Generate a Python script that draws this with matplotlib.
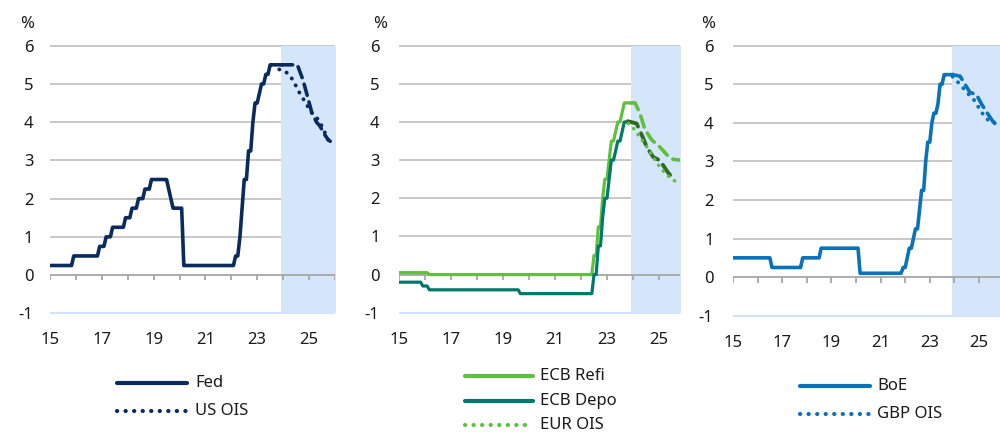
import numpy as np
import matplotlib
matplotlib.use("Agg")
import matplotlib.pyplot as plt
from matplotlib.lines import Line2D

plt.rcParams['font.family'] = ['Noto Sans', 'DejaVu Sans']

# ---------------- data ----------------
# Policy rate decisions: (effective month, new rate in %)
fed_dates = ["2015-01", "2015-12", "2016-12", "2017-03", "2017-06", "2017-12",
             "2018-03", "2018-06", "2018-09", "2018-12", "2019-08", "2019-09",
             "2019-10", "2020-03", "2022-03", "2022-05", "2022-06", "2022-07",
             "2022-09", "2022-11", "2022-12", "2023-02", "2023-03", "2023-05",
             "2023-07"]
fed_rates = [0.25, 0.50, 0.75, 1.00, 1.25, 1.50, 1.75, 2.00, 2.25, 2.50, 2.25,
             2.00, 1.75, 0.25, 0.50, 1.00, 1.75, 2.50, 3.25, 4.00, 4.50, 4.75,
             5.00, 5.25, 5.50]

refi_dates = ["2015-01", "2016-03", "2022-07", "2022-09", "2022-11", "2022-12",
              "2023-02", "2023-03", "2023-05", "2023-06", "2023-08", "2023-09"]
refi_rates = [0.05, 0.00, 0.50, 1.25, 2.00, 2.50, 3.00, 3.50, 3.75, 4.00, 4.25, 4.50]

depo_dates = ["2015-01", "2015-12", "2016-03", "2019-09", "2022-07", "2022-09",
              "2022-11", "2022-12", "2023-02", "2023-03", "2023-05", "2023-06",
              "2023-08", "2023-09"]
depo_rates = [-0.20, -0.30, -0.40, -0.50, 0.00, 0.75, 1.50, 2.00, 2.50, 3.00,
              3.25, 3.50, 3.75, 4.00]

boe_dates = ["2015-01", "2016-08", "2017-11", "2018-08", "2020-03", "2021-12",
             "2022-02", "2022-03", "2022-05", "2022-06", "2022-08", "2022-09",
             "2022-11", "2022-12", "2023-02", "2023-03", "2023-05", "2023-06",
             "2023-08"]
boe_rates = [0.50, 0.25, 0.50, 0.75, 0.10, 0.25, 0.50, 0.75, 1.00, 1.25, 1.75,
             2.25, 3.00, 3.50, 4.00, 4.25, 4.50, 5.00, 5.25]

# Forecast paths (time in years, rate in %)
fed_fc_t = [2023.92, 2024.0, 2024.25, 2024.55, 2024.77, 2024.97, 2025.1, 2025.29,
            2025.42, 2025.61, 2025.74, 2025.82]
fed_fc_v = [5.50, 5.50, 5.50, 5.50, 5.10, 4.60, 4.27, 4.00, 3.90, 3.67, 3.54, 3.50]
usois_t = [2023.85, 2024.19, 2024.38, 2024.64, 2024.84, 2025.03, 2025.16, 2025.38,
           2025.61, 2025.74, 2025.82]
usois_v = [5.38, 5.28, 5.10, 4.76, 4.54, 4.32, 4.19, 4.06, 3.73, 3.54, 3.50]

refi_fc_t = [2023.92, 2024.08, 2024.27, 2024.46, 2024.72, 2025.04, 2025.30, 2025.55, 2025.80]
refi_fc_v = [4.50, 4.50, 4.22, 3.80, 3.53, 3.34, 3.14, 3.02, 3.00]
depo_fc_t = [2023.80, 2024.14, 2024.40, 2024.53, 2024.78, 2025.04, 2025.30, 2025.55]
depo_fc_v = [4.02, 3.96, 3.56, 3.34, 3.08, 2.99, 2.72, 2.50]
eurois_t = [2023.82, 2024.0, 2024.27, 2024.59, 2024.85, 2025.10, 2025.42, 2025.62]
eurois_v = [3.96, 3.85, 3.60, 3.29, 3.00, 2.76, 2.54, 2.45]

boe_fc_t = [2023.92, 2024.23, 2024.43, 2024.63, 2024.90, 2025.10, 2025.31, 2025.58, 2025.85]
boe_fc_v = [5.25, 5.21, 5.00, 4.79, 4.73, 4.49, 4.28, 4.02, 4.00]
gbpois_t = [2023.92, 2024.02, 2024.23, 2024.50, 2024.77, 2025.10, 2025.31, 2025.58, 2025.85]
gbpois_v = [5.20, 5.13, 5.00, 4.79, 4.62, 4.28, 4.10, 4.00, 3.95]

tick_years = [2015, 2017, 2019, 2021, 2023, 2025]
tick_labels = ["15", "17", "19", "21", "23", "25"]
y_ticks = [-1, 0, 1, 2, 3, 4, 5, 6]
forecast_start = 2023.92

# ---------------- colours ----------------
NAVY = "#0b2b5e"
LGREEN = "#5ec03c"
TEAL = "#00786a"
DGREEN = "#2f6b1f"
BLUE = "#0a72b9"
SHADE = "#d6e6fa"
GRID = "#bfbfbf"
AXIS = "#a6a6a6"
TXT = "#1a1a1a"

W, H = 1000, 432
fig = plt.figure(figsize=(W / 100, H / 100), dpi=100)

dotted = (0, (0.05, 2.0))
dashed = (0, (3.2, 1.9))


def monthly(dates, rates, end="2023-12"):
    """Month-by-month rate path from a list of decision months."""
    ey, em = map(int, end.split("-"))
    t, v = [], []
    d_t = [int(d[:4]) + (int(d[5:]) - 1) / 12 for d in dates]
    y, m = 2015, 1
    while (y, m) <= (ey, em):
        tt = y + (m - 1) / 12
        idx = np.searchsorted(d_t, tt + 1e-9, side="right") - 1
        t.append(tt)
        v.append(rates[idx])
        m += 1
        if m > 12:
            m, y = 1, y + 1
    return np.array(t), np.array(v)


def make_axes(left_px, px_per_year, xmax, top6_px, bot1_px, pad_y, pct_x):
    upu = (bot1_px - top6_px) / 7.0
    ext = 0.1
    top = top6_px - ext * upu
    bot = bot1_px + ext * upu
    width = (xmax - 2015) * px_per_year
    ax = fig.add_axes([left_px / W, 1 - bot / H, width / W, (bot - top) / H])
    ax.set_xlim(2015, xmax)
    ax.set_ylim(-1 - ext, 6 + ext)
    for s in ax.spines.values():
        s.set_visible(False)
    ax.set_xticks(tick_years)
    ax.set_xticklabels(tick_labels)
    ax.set_yticks(y_ticks)
    ax.set_yticklabels([str(v) for v in y_ticks])
    ax.tick_params(axis="x", length=0, pad=11, labelsize=12, colors=TXT)
    ax.tick_params(axis="y", length=0, pad=pad_y, labelsize=12, colors=TXT)
    for lv in [1, 2, 3, 4, 5, 6]:
        ax.axhline(lv, color=GRID, lw=1.2, zorder=0.5)
    ax.axhline(-1, color="#d3e3f8", lw=1.5, zorder=0.5)
    ax.fill_between([forecast_start, xmax + 1], -1, 6, color=SHADE, lw=0, zorder=1)
    ax.axhline(0, color=AXIS, lw=1.3, zorder=2)
    ax.vlines(np.arange(2015, 2027), -0.14, 0, color=AXIS, lw=1.3, zorder=2)
    fig.text(pct_x / W, 1 - 24 / H, "%", fontsize=12,
             color=TXT, ha="center", va="center")
    return ax


def legend(x0, x1, xt, rows, lw=3.0):
    for y, color, style, label in rows:
        ls = "-" if style == "solid" else dotted
        ln = Line2D([x0 / W, x1 / W], [1 - y / H, 1 - y / H], transform=fig.transFigure,
                    color=color, lw=lw, linestyle=ls,
                    solid_capstyle="round", dash_capstyle="round")
        fig.add_artist(ln)
        fig.text(xt / W, 1 - y / H, label, fontsize=12, color=TXT, va="center", ha="left")


# ---------------- Fed ----------------
ax1 = make_axes(50, 25.9, 2026.0, 45.7, 313.3, 12, 27)
t, v = monthly(fed_dates, fed_rates)
ax1.plot(t, v, color=NAVY, lw=2.6, zorder=4, solid_joinstyle="round")
ax1.plot(fed_fc_t, fed_fc_v, color=NAVY, lw=2.6, ls=dashed, zorder=4, dash_capstyle="round")
ax1.plot(usois_t, usois_v, color=NAVY, lw=2.8, ls=dotted, zorder=4, dash_capstyle="round")
legend(117, 187, 195, [(383, NAVY, "solid", "Fed"), (411, NAVY, "dot", "US OIS")])

# ---------------- ECB ----------------
ax2 = make_axes(399, 26.0, 2025.8, 45.7, 312.7, 14, 380)
t, v = monthly(refi_dates, refi_rates)
ax2.plot(t, v, color=LGREEN, lw=2.3, zorder=4)
t, v = monthly(depo_dates, depo_rates)
ax2.plot(t, v, color=TEAL, lw=2.3, zorder=4)
ax2.plot(refi_fc_t, refi_fc_v, color=LGREEN, lw=2.6, ls=dashed, zorder=4, dash_capstyle="round")
ax2.plot(depo_fc_t, depo_fc_v, color=DGREEN, lw=2.8, ls=dashed, zorder=4, dash_capstyle="round")
ax2.plot(eurois_t, eurois_v, color=LGREEN, lw=2.6, ls=dotted, zorder=5, dash_capstyle="round")
legend(465, 533, 540, [(376, LGREEN, "solid", "ECB Refi"), (401, TEAL, "solid", "ECB Depo"),
                       (425, LGREEN, "dot", "EUR OIS")])

# ---------------- BoE ----------------
ax3 = make_axes(733, 24.6, 2026.0, 45.7, 315.7, 14, 708)
t, v = monthly(boe_dates, boe_rates)
ax3.plot(t, v, color=BLUE, lw=2.6, zorder=4)
ax3.plot(boe_fc_t, boe_fc_v, color=BLUE, lw=2.6, ls=dashed, zorder=4, dash_capstyle="round")
ax3.plot(gbpois_t, gbpois_v, color=BLUE, lw=2.8, ls=dotted, zorder=4, dash_capstyle="round")
legend(800, 870, 877, [(386, BLUE, "solid", "BoE"), (414, BLUE, "dot", "GBP OIS")])

fig.savefig("out.png", dpi=100)
